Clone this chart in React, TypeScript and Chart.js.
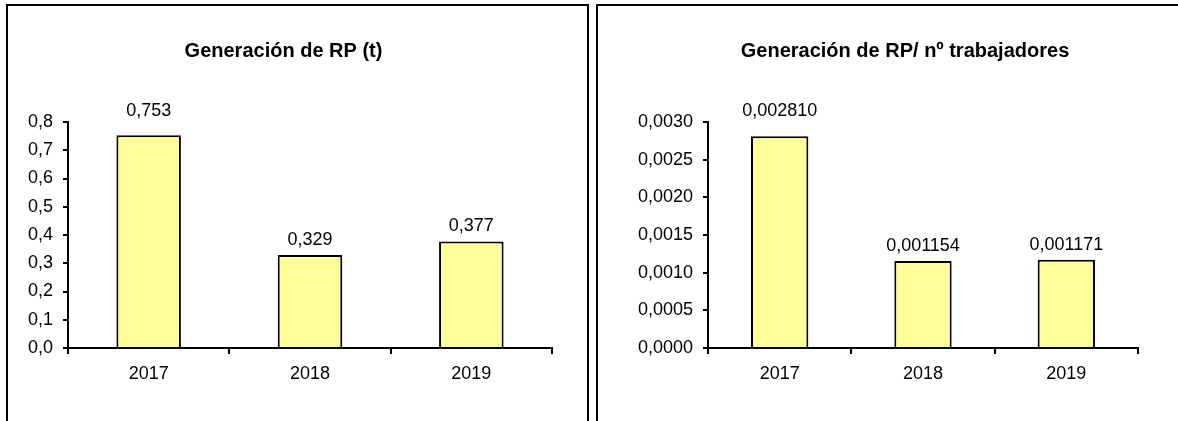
import React, { useEffect, useRef } from "react";
import { Chart, registerables } from "chart.js";

Chart.register(...registerables);

const categories = ["2017", "2018", "2019"];
const rpValues = [0.753, 0.329, 0.377];
const rpPerWorkerValues = [0.00281, 0.001154, 0.001171];

const rpTitle = "Generación de RP (t)";
const rpPerWorkerTitle = "Generación de RP/ nº trabajadores";

const rpAxis = { max: 0.8, step: 0.1, tickDecimals: 1, labelDecimals: 3 };
const rpPerWorkerAxis = { max: 0.003, step: 0.0005, tickDecimals: 4, labelDecimals: 6 };

const FONT = "'Liberation Sans', Arial, sans-serif";
const fmt = (v: number, d: number) => v.toFixed(d).replace(".", ",");

type BoxProps = {
  title: string;
  values: number[];
  axis: { max: number; step: number; tickDecimals: number; labelDecimals: number };
  canvasWidth: number;
  padRight: number;
  yWidth: number;
  titleX: number;
};

function ChartBox({ title, values, axis, canvasWidth, padRight, yWidth, titleX }: BoxProps) {
  const ref = useRef<HTMLCanvasElement | null>(null);
  useEffect(() => {
    if (!ref.current) return;
    const canvasHeight = 420;
    const labelPlugin = {
      id: "barLabels",
      afterDatasetsDraw(chart: any) {
        const ctx = chart.ctx;
        const meta = chart.getDatasetMeta(0);
        ctx.save();
        ctx.font = `18px ${FONT}`;
        ctx.fillStyle = "#000";
        ctx.textAlign = "center";
        ctx.textBaseline = "middle";
        meta.data.forEach((bar: any, i: number) => {
          let y = bar.y - 15;
          if (y < chart.chartArea.top) y = chart.chartArea.top - 11;
          ctx.fillText(fmt(values[i], axis.labelDecimals), bar.x, y);
        });
        ctx.restore();
      },
    };
    const titlePlugin = {
      id: "boxTitle",
      afterDraw(chart: any) {
        const ctx = chart.ctx;
        ctx.save();
        ctx.font = `bold 20px ${FONT}`;
        ctx.fillStyle = "#000";
        ctx.textAlign = "center";
        ctx.textBaseline = "middle";
        ctx.fillText(title, titleX, 45);
        ctx.restore();
      },
    };
    const chart = new Chart(ref.current, {
      type: "bar",
      data: {
        labels: categories,
        datasets: [
          {
            data: values,
            backgroundColor: "#FFFF99",
            borderColor: "#000",
            borderWidth: 2,
            categoryPercentage: 1,
            barPercentage: 0.4,
          },
        ],
      },
      options: {
        animation: false,
        responsive: false,
        layout: { padding: { left: 0, right: padRight, top: 116, bottom: 0 } },
        plugins: {
          legend: { display: false },
          tooltip: { enabled: false },
          title: { display: false },
        },
        scales: {
          x: {
            grid: {
              drawOnChartArea: false,
              drawTicks: true,
              tickLength: 6,
              color: "#000",
              lineWidth: 2,
              offset: true,
            },
            border: { display: true, color: "#000", width: 2 },
            ticks: { color: "#000", font: { family: FONT, size: 18 }, padding: 9 },
            afterFit(scale: any) {
              scale.height = canvasHeight + 6 - 348;
            },
          },
          y: {
            min: 0,
            max: axis.max,
            grid: {
              drawOnChartArea: false,
              drawTicks: true,
              tickLength: 5,
              color: "#000",
              lineWidth: 2,
            },
            border: { display: true, color: "#000", width: 2 },
            ticks: {
              stepSize: axis.step,
              color: "#000",
              font: { family: FONT, size: 18 },
              padding: 10,
              callback: (v: any) => fmt(Number(v), axis.tickDecimals),
            },
            afterFit(scale: any) {
              scale.width = yWidth;
            },
          },
        },
      },
      plugins: [labelPlugin, titlePlugin],
    });
    return () => chart.destroy();
  }, []);
  return <canvas ref={ref} width={canvasWidth} height={420} style={{ display: "block" }} />;
}

export default function App() {
  return (
    <div style={{ position: "fixed", inset: 0, overflow: "hidden", background: "#fff" }}>
      <div
        style={{
          position: "absolute",
          left: 6,
          top: 4,
          width: 583,
          height: 440,
          border: "2px solid #000",
          boxSizing: "border-box",
        }}
      >
        <ChartBox
          title={rpTitle}
          values={rpValues}
          axis={rpAxis}
          canvasWidth={579}
          padRight={35}
          yWidth={60}
          titleX={275.5}
        />
      </div>
      <div
        style={{
          position: "absolute",
          left: 596,
          top: 4,
          width: 600,
          height: 440,
          border: "2px solid #000",
          boxSizing: "border-box",
        }}
      >
        <ChartBox
          title={rpPerWorkerTitle}
          values={rpPerWorkerValues}
          axis={rpPerWorkerAxis}
          canvasWidth={596}
          padRight={56}
          yWidth={110}
          titleX={307}
        />
      </div>
    </div>
  );
}
